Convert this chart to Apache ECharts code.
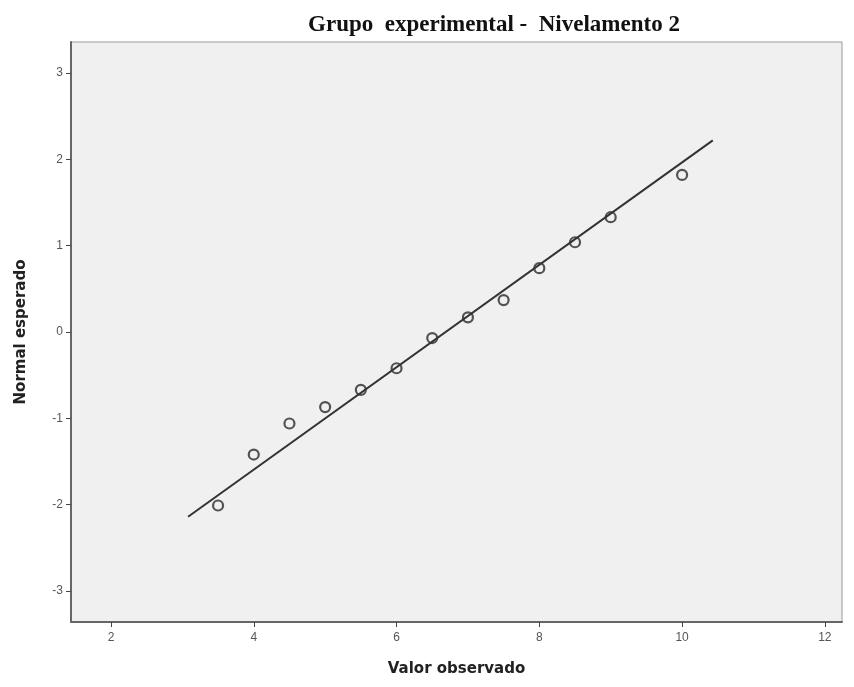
<!DOCTYPE html>
<html>
<head>
<meta charset="utf-8">
<script src="https://cdn.jsdelivr.net/npm/echarts@6/dist/echarts.min.js"></script>
<style>
  html, body { margin: 0; padding: 0; background: #fff; }
  #main { width: 854px; height: 687px; }
</style>
</head>
<body>
<div id="main"></div>
<script>
// observed values and their expected normal scores
var observed = [3.5, 4, 4.5, 5, 5.5, 6, 6.5, 7, 7.5, 8, 8.5, 9, 10];
var expected = [-2.01, -1.42, -1.06, -0.87, -0.67, -0.42, -0.07, 0.17, 0.37, 0.74, 1.04, 1.33, 1.82];

// reference line end points
var lineX = [3.08, 10.43];
var lineY = [-2.14, 2.22];

var xTicks = [2, 4, 6, 8, 10, 12];
var yTicks = [-3, -2, -1, 0, 1, 2, 3];

var points = [];
for (var i = 0; i < observed.length; i++) {
    points.push([observed[i], expected[i]]);
}
var linePts = [[lineX[0], lineY[0]], [lineX[1], lineY[1]]];

var myChart = echarts.init(document.getElementById('main'));
var labelFont = { color: '#555', fontSize: 12, fontFamily: 'Liberation Sans, Arial, sans-serif' };
var nameFont = { fontFamily: 'DejaVu Sans, sans-serif', fontWeight: 'bold', fontSize: 15, color: '#222' };

var option = {
    backgroundColor: '#ffffff',
    animation: false,
    title: {
        text: 'Grupo  experimental -  Nivelamento 2',
        left: 489,
        textAlign: 'center',
        top: 9,
        textStyle: {
            fontFamily: 'Liberation Serif, Times New Roman, serif',
            fontWeight: 'bold',
            fontSize: 23,
            color: '#111'
        }
    },
    grid: {
        left: 71, right: 12, top: 42, bottom: 65,
        show: true,
        backgroundColor: '#f0f0f0',
        borderColor: '#999',
        borderWidth: 1
    },
    xAxis: {
        type: 'value',
        min: 1.44, max: 12.24,
        name: 'Valor observado',
        nameLocation: 'middle',
        nameGap: 40,
        nameTextStyle: nameFont,
        axisLine: { show: true, onZero: false, lineStyle: { color: '#666', width: 2 } },
        axisTick: { show: true, length: 5, lineStyle: { color: '#444' }, customValues: xTicks },
        axisLabel: Object.assign({ margin: 10, customValues: xTicks }, labelFont),
        splitLine: { show: false }
    },
    yAxis: {
        type: 'value',
        min: -3.36, max: 3.36,
        name: 'Normal esperado',
        nameLocation: 'middle',
        nameGap: 42,
        nameTextStyle: nameFont,
        axisLine: { show: true, onZero: false, lineStyle: { color: '#666', width: 2 } },
        axisTick: { show: true, length: 5, lineStyle: { color: '#444' }, customValues: yTicks },
        axisLabel: Object.assign({ margin: 8, customValues: yTicks }, labelFont),
        splitLine: { show: false }
    },
    series: [
        {
            type: 'line',
            data: linePts,
            symbol: 'none',
            lineStyle: { color: '#333', width: 2 },
            silent: true
        },
        {
            type: 'scatter',
            data: points,
            symbol: 'circle',
            symbolSize: 10,
            itemStyle: { color: '#f0f0f0', borderColor: '#2a2a2a', borderWidth: 2.2 }
        }
    ]
};

myChart.setOption(option);
</script>
</body>
</html>
